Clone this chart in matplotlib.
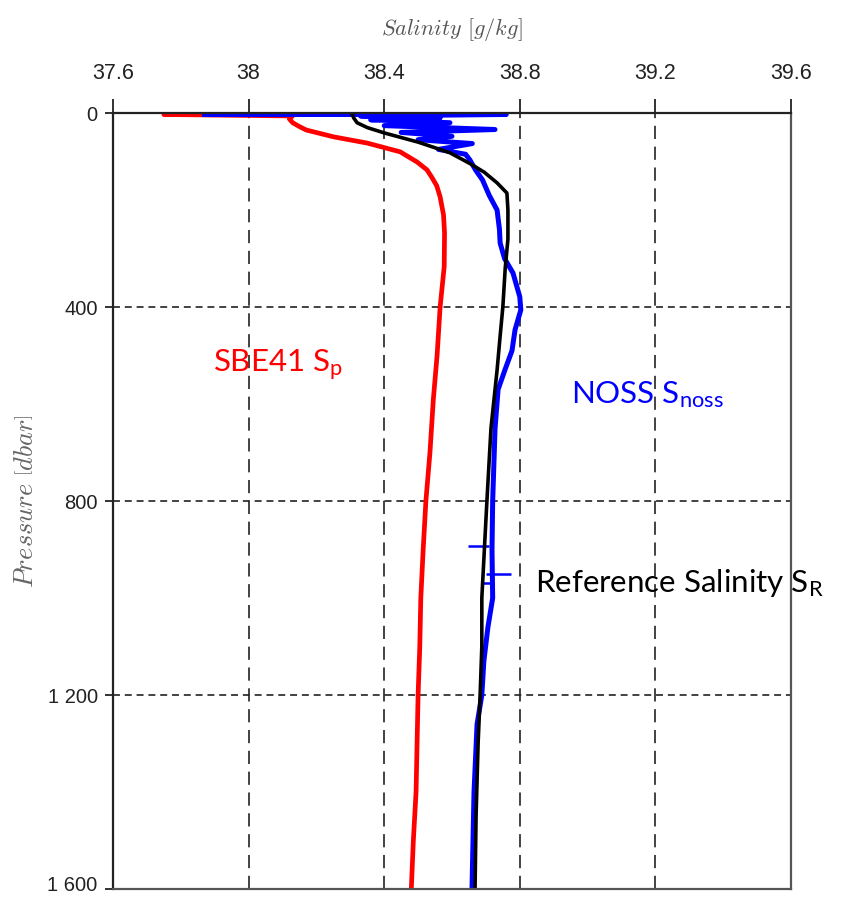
import matplotlib
matplotlib.use('Agg')
import matplotlib.pyplot as plt
import matplotlib.transforms as mtransforms

# profiles: pressure [dbar] / salinity [g/kg]
red_p = [3, 3, 6, 12, 20, 28, 35, 49, 62, 80, 101, 117, 132, 150, 173, 210, 247, 317, 400,
         500, 590, 700, 800, 900, 1000, 1100, 1200, 1300, 1400, 1500, 1600]
red_s = [38.20, 37.75, 38.13, 38.12, 38.13, 38.15, 38.17, 38.25, 38.35, 38.447, 38.497, 38.526,
         38.54, 38.555, 38.565, 38.575, 38.578, 38.577, 38.565, 38.556, 38.545, 38.535, 38.523,
         38.515, 38.508, 38.505, 38.50, 38.497, 38.494, 38.486, 38.48]

noss_p = [3, 3, 6, 10, 14, 20, 26, 34, 40, 48, 55, 63, 75, 85, 97, 118, 138, 170, 200, 240,
          268, 300, 330, 379, 406, 447, 490, 530, 570, 650, 800, 900, 1000, 1060, 1130, 1200,
          1260, 1400, 1600]
noss_s = [37.87, 38.76, 38.33, 38.565, 38.36, 38.594, 38.40, 38.727, 38.45, 38.60, 38.50, 38.66,
          38.56, 38.64, 38.653, 38.67, 38.69, 38.71, 38.733, 38.74, 38.742, 38.755, 38.78, 38.80,
          38.803, 38.786, 38.777, 38.756, 38.736, 38.727, 38.72, 38.718, 38.72, 38.706, 38.694,
          38.688, 38.674, 38.665, 38.659]

ref_p = [2, 10, 20, 30, 41, 60, 82, 105, 122, 144, 165, 200, 260, 320, 400, 460, 530, 650,
         800, 920, 1000, 1100, 1200, 1300, 1450, 1600]
ref_s = [38.305, 38.31, 38.32, 38.35, 38.40, 38.50, 38.594, 38.655, 38.695, 38.733, 38.762,
         38.765, 38.765, 38.757, 38.75, 38.742, 38.733, 38.715, 38.703, 38.694, 38.688, 38.688,
         38.683, 38.677, 38.671, 38.668]

# single bad NOSS samples (horizontal spikes)
glitch_p = [893, 950, 969]
glitch_lo = [38.647, 38.70, 38.69]
glitch_hi = [38.71, 38.775, 38.72]

x_ticks = [37.6, 38.0, 38.4, 38.8, 39.2, 39.6]
x_labels = ['37.6', '38', '38.4', '38.8', '39.2', '39.6']
y_ticks = [0, 400, 800, 1200, 1600]
y_labels = ['0', '400', '800', '1 200', '1 600']

plt.rcParams['mathtext.fontset'] = 'custom'
plt.rcParams['mathtext.rm'] = 'Lato'
plt.rcParams['mathtext.it'] = 'Lato:italic'
plt.rcParams['lines.scale_dashes'] = False

fig = plt.figure(figsize=(8.58, 8.97), dpi=100)
ax = fig.add_axes([0.1317, 0.0089, 0.7902, 0.8651])

ax.plot(red_s, red_p, color='#ff0000', lw=3.4, solid_joinstyle='round')
ax.plot(noss_s, noss_p, color='#0000ff', lw=3.6, solid_joinstyle='round')
ax.hlines(glitch_p, glitch_lo, glitch_hi, color='#0000ff', lw=1.8)
ax.plot(ref_s, ref_p, color='black', lw=2.6, solid_joinstyle='round')

ax.set_xlim(37.6, 39.6)
ax.set_ylim(1600, 0)

ax.xaxis.tick_top()
ax.xaxis.set_label_position('top')
ax.set_xticks(x_ticks)
ax.set_xticklabels(x_labels)
ax.set_yticks(y_ticks)
ax.set_yticklabels(y_labels)

for lab in ax.get_xticklabels() + ax.get_yticklabels():
    lab.set_family('Liberation Sans')
    lab.set_color('#222222')
ax.tick_params(axis='x', direction='out', length=10, width=1.3, pad=11, labelsize=15.5, color='#222222')
ax.tick_params(axis='y', direction='out', length=6, width=1.3, pad=5, labelsize=14.5, color='#222222')

# the bottom label sits on the figure edge, nudge it up a little
last = ax.get_yticklabels()[-1]
last.set_transform(last.get_transform() +
                   mtransforms.ScaledTranslation(0, 4 / 72, fig.dpi_scale_trans))

ax.xaxis.grid(True, color='#222222', lw=1.2, linestyle=(0, (9.5, 5.5)))
ax.yaxis.grid(True, color='#222222', lw=1.2, linestyle=(0, (5, 3.5)))

ax.spines['top'].set_color('#222222')
ax.spines['left'].set_color('#222222')
ax.spines['right'].set_color('#555555')
ax.spines['bottom'].set_color('#555555')
for s in ax.spines.values():
    s.set_linewidth(1.6)

ax.set_xlabel(r'$Salinity\ \left[g/kg\right]$', fontsize=16, color='#555555',
              labelpad=20, math_fontfamily='cm')
ax.set_ylabel(r'$Pressure\ \left[dbar\right]$', fontsize=19, color='#666666',
              labelpad=6, math_fontfamily='cm')

ax.text(37.895, 534, r'SBE41 S$_\mathregular{p}$', color='#ff0000', fontsize=22.5,
        family='Lato', va='baseline')
ax.text(38.951, 598, r'NOSS S$_\mathregular{noss}$', color='#0000ff', fontsize=22.5,
        family='Lato', va='baseline')
ax.text(38.845, 988, r'Reference Salinity S$_\mathregular{R}$', color='black', fontsize=22.5,
        family='Lato', va='baseline')

fig.savefig('out.png', dpi=100)
